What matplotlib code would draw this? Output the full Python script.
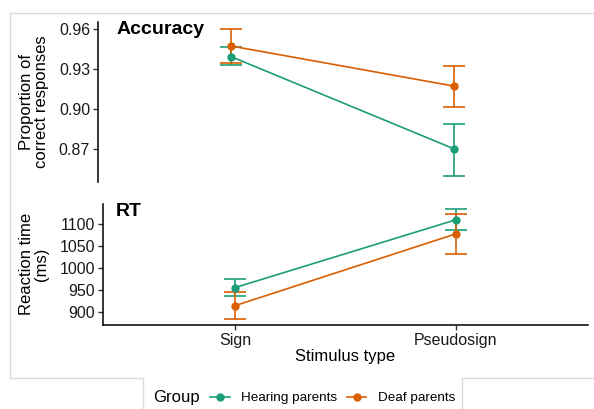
import matplotlib
matplotlib.use("Agg")
import matplotlib.pyplot as plt
from matplotlib.lines import Line2D
import numpy as np

plt.rcParams['font.family'] = ['Liberation Sans', 'DejaVu Sans']

stimulus = ["Sign", "Pseudosign"]
groups = ["Hearing parents", "Deaf parents"]
colors = {"Hearing parents": "#1B9E77", "Deaf parents": "#D95F02"}

acc_mean = {"Hearing parents": [0.939, 0.870], "Deaf parents": [0.947, 0.917]}
acc_low = {"Hearing parents": [0.933, 0.850], "Deaf parents": [0.9345, 0.9015]}
acc_high = {"Hearing parents": [0.946, 0.8885], "Deaf parents": [0.9595, 0.932]}

rt_mean = {"Hearing parents": [956, 1110], "Deaf parents": [915, 1078]}
rt_low = {"Hearing parents": [936, 1086], "Deaf parents": [884, 1032]}
rt_high = {"Hearing parents": [975, 1135], "Deaf parents": [947, 1123]}

acc_ticks = [0.87, 0.90, 0.93, 0.96]
rt_ticks = [900, 950, 1000, 1050, 1100]

W, H = 594, 409
fig = plt.figure(figsize=(W / 100, H / 100), dpi=100)

def fx(px):
    return px / W

def fy(py):
    return 1 - py / H

ax1 = fig.add_axes([fx(97.7), fy(182), fx(588) - fx(97.7), fy(22) - fy(182)])
ax2 = fig.add_axes([fx(102.7), fy(325), fx(588) - fx(102.7), fy(204) - fy(325)])

x = np.arange(1, len(stimulus) + 1)
handles = []
for ax, mean, low, high in [(ax1, acc_mean, acc_low, acc_high), (ax2, rt_mean, rt_low, rt_high)]:
    for g in groups:
        m = np.array(mean[g], dtype=float)
        lo = np.array(low[g], dtype=float)
        hi = np.array(high[g], dtype=float)
        ax.errorbar(x, m, yerr=[m - lo, hi - m], color=colors[g], lw=1.2,
                    capsize=8, capthick=1.2, elinewidth=1.2,
                    marker='o', markersize=5, zorder=3)
    ax.set_xlim(0.4, 2.6)
    for s in ['top', 'right']:
        ax.spines[s].set_visible(False)
    ax.spines['left'].set_linewidth(1.1)
    ax.spines['bottom'].set_linewidth(1.1)
    ax.tick_params(axis='both', labelsize=11.5, length=3.5, width=1.0,
                   color='#333333', labelcolor='#1a1a1a', pad=2)

for g in groups:
    handles.append(Line2D([], [], color=colors[g], lw=1.2, marker='o', markersize=5))

ax1.set_ylim(0.8453, 0.965)
ax1.set_yticks(acc_ticks)
ax1.set_yticklabels([f"{t:.2f}" for t in acc_ticks])
ax1.spines['bottom'].set_visible(False)
ax1.set_xticks([])

ax2.set_ylim(871, 1146)
ax2.set_yticks(rt_ticks)
ax2.set_xticks(x)
ax2.set_xticklabels(stimulus)

fig.text(fx(116.7), fy(34), "Accuracy", fontsize=14, fontweight='bold', va='baseline', ha='left')
fig.text(fx(116), fy(216), "RT", fontsize=14, fontweight='bold', va='baseline', ha='left')

fig.text(fx(34), fy(102), "Proportion of\ncorrect responses", rotation=90, fontsize=12,
         ha='center', va='center', multialignment='center', linespacing=0.95)
fig.text(fx(34), fy(264), "Reaction time\n(ms)", rotation=90, fontsize=12,
         ha='center', va='center', multialignment='center', linespacing=0.95)
fig.text(fx(345.5), fy(356), "Stimulus type", fontsize=12, ha='center', va='center')

fig.text(fx(153.3), fy(397.5), "Group", fontsize=12, ha='left', va='center')
fig.legend(handles, groups, ncol=2, loc='center left', bbox_to_anchor=(fx(210), fy(398)),
           frameon=False, fontsize=9.7, handlelength=1.48, handletextpad=0.85,
           columnspacing=0.67, borderpad=0, borderaxespad=0)

fc = '#dcdcdc'
for xs, ys in [([10, 10], [12.7, 378]), ([10, 594], [12.7, 12.7]),
               ([10, 143], [378, 378]), ([143, 143], [378, 409]),
               ([462, 462], [409, 378]), ([462, 594], [378, 378])]:
    fig.add_artist(Line2D([fx(v) for v in xs], [fy(v) for v in ys], color=fc, lw=1.0))

fig.savefig("out.png", dpi=100)
